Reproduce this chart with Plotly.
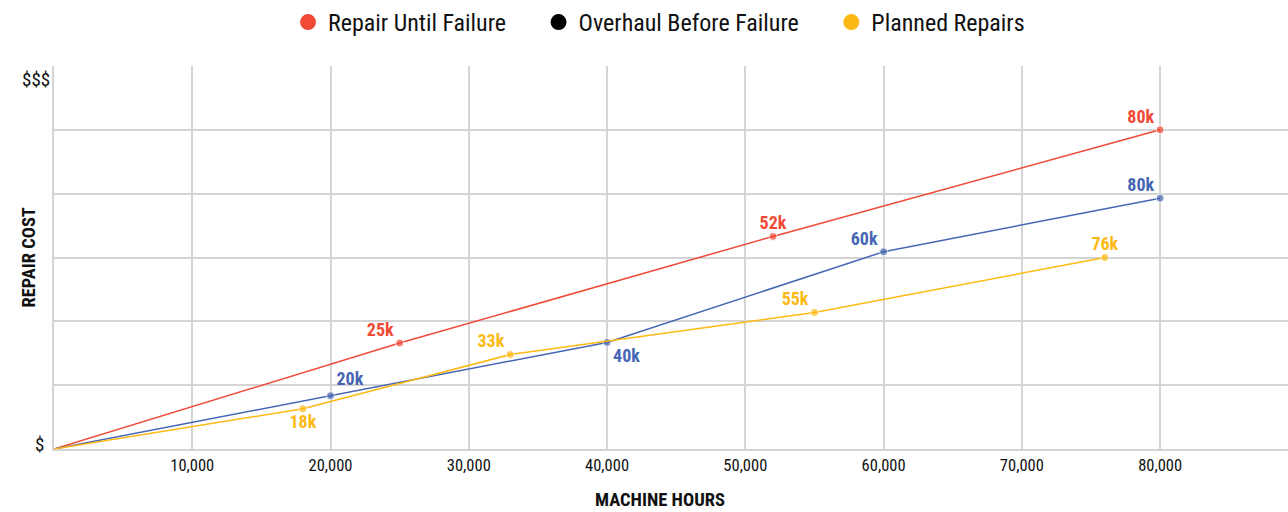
import plotly.graph_objects as go

series_names = ["Repair Until Failure", "Overhaul Before Failure", "Planned Repairs"]
line_colors = ["#F04A36", "#4666B3", "#FDB913"]
legend_colors = ["#F04A36", "#000000", "#FDB913"]

red_x = [0, 25000, 52000, 80000]
red_y = [0, 1.66, 3.33, 5.0]
red_labels = ["", "25k", "52k", "80k"]
red_pos = ["middle left", "middle left", "middle center", "middle left"]

blue_x = [0, 20000, 40000, 60000, 80000]
blue_y = [0, 0.835, 1.67, 3.09, 3.93]
blue_labels = ["", "20k", "40k", "60k", "80k"]
blue_pos = ["middle left", "top right", "bottom right", "middle left", "middle left"]

yellow_x = [0, 18000, 33000, 55000, 76000]
yellow_y = [0, 0.63, 1.48, 2.14, 3.0]
yellow_labels = ["", "18k", "33k", "55k", "76k"]
yellow_pos = ["middle left", "bottom center", "middle left", "middle left", "middle center"]

x_ticks = [10000, 20000, 30000, 40000, 50000, 60000, 70000, 80000]
x_ticktext = ["10,000", "20,000", "30,000", "40,000", "50,000", "60,000", "70,000", "80,000"]
y_ticks = [0, 1, 2, 3, 4, 5, 6]
# dollar signs written as entities so they are not read as LaTeX
y_ticktext = ["&#36;", "", "", "", "", "", "&#36;&#36;&#36;"]

x_title = "MACHINE HOURS"
y_title = "REPAIR COST"

FONT = "Liberation Sans Narrow, Roboto Condensed, Roboto, sans-serif"


def label_text(lbl, pos):
    # labels beside a point are lifted by a blank second line
    if lbl and pos.startswith("middle"):
        return lbl + "<br> "
    return lbl


fig = go.Figure()
data = [(red_x, red_y, red_labels, red_pos), (blue_x, blue_y, blue_labels, blue_pos),
        (yellow_x, yellow_y, yellow_labels, yellow_pos)]
for i, (xs, ys, lbl, pos) in enumerate(data):
    sizes = [0] + [8] * (len(xs) - 1)
    fig.add_trace(go.Scatter(
        x=xs, y=ys, mode="lines+markers+text",
        text=[label_text(l, p) for l, p in zip(lbl, pos)], textposition=pos,
        line=dict(color=line_colors[i], width=1.5),
        marker=dict(color=line_colors[i], size=sizes),
        textfont=dict(color=line_colors[i], size=18, family=FONT, weight="bold"),
        showlegend=False, hoverinfo="skip"))

for i, name in enumerate(series_names):
    fig.add_trace(go.Scatter(
        x=[None], y=[None], mode="markers",
        name=name + ("\u00a0" * 5 if i < len(series_names) - 1 else ""),
        marker=dict(color=legend_colors[i], size=24)))

# y tick labels as right-aligned annotations just left of the axis
tick_annotations = []
for v, t in zip(y_ticks, y_ticktext):
    if not t:
        continue
    is_top = v == max(y_ticks)
    tick_annotations.append(dict(
        text=t, xref="paper", yref="y", x=0, y=v, xanchor="right",
        yanchor="top" if is_top else "middle",
        xshift=-2 if is_top else -8, yshift=0 if is_top else 5,
        showarrow=False, font=dict(size=19, color="#111111")))

fig.update_layout(
    width=1288, height=512,
    margin=dict(l=54, r=0, t=66, b=63),
    paper_bgcolor="white", plot_bgcolor="white",
    font=dict(family=FONT, color="#111111"),
    legend=dict(orientation="h", x=0.4903, xanchor="center", y=1.0, yanchor="top",
                yref="container", font=dict(size=24, color="#111111"),
                itemsizing="trace", traceorder="normal", itemwidth=30),
    xaxis=dict(range=[0, 89250], tickvals=x_ticks, ticktext=x_ticktext,
               showgrid=True, gridcolor="#d4d4d4", gridwidth=2,
               showline=True, linecolor="#d4d4d4", linewidth=2,
               zeroline=False, ticks="", tickfont=dict(size=16.5, color="#111111")),
    yaxis=dict(range=[0, 6], tickvals=y_ticks, showticklabels=False,
               showgrid=True, gridcolor="#d4d4d4", gridwidth=2,
               showline=True, linecolor="#d4d4d4", linewidth=2,
               zeroline=False, ticks=""),
    annotations=tick_annotations + [
        dict(text="<b>" + y_title + "</b>", textangle=-90, xref="paper", yref="paper",
             x=-0.021, y=0.5, xanchor="center", yanchor="middle", showarrow=False,
             font=dict(size=18.5, color="#111111")),
        dict(text="<b>" + x_title + "</b>", xref="paper", yref="paper",
             x=0.491, y=-0.133, xanchor="center", yanchor="middle", showarrow=False,
             font=dict(size=18.5, color="#111111")),
    ],
)

fig.write_html("out.html", config={"displayModeBar": False})
with open("out.html", "r", encoding="utf-8") as f:
    html = f.read()
html = html.replace("<head>", "<head><style>html,body{margin:0;padding:0;overflow:hidden;}</style>", 1)
with open("out.html", "w", encoding="utf-8") as f:
    f.write(html)
